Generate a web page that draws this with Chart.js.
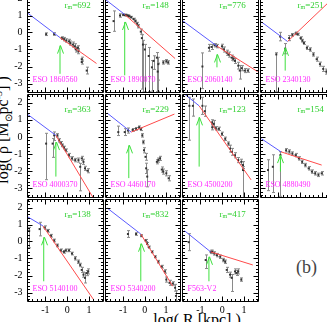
<!DOCTYPE html>
<html>
<head>
<meta charset="utf-8">
<script src="https://cdn.jsdelivr.net/npm/chart.js@4.4.1/dist/chart.umd.min.js"></script>
<style>
html, body { margin: 0; padding: 0; background: #fff; }
#fig { position: relative; width: 327px; height: 322px; overflow: hidden; background: #fff; }
#fig canvas { position: absolute; }
.t { position: absolute; font-family: "Liberation Serif", serif; color: #000; white-space: nowrap; }
</style>
</head>
<body>
<div id="fig">
  <div class="t" id="ytitle" style="left:4px;top:130px;font-size:16px;line-height:16px;transform:translate(-50%,-50%) rotate(-90deg);">log( &rho; [M<sub style="font-size:10px">&#8857;</sub>pc<sup style="font-size:10px">-3</sup>] )</div>
  <div class="t" id="xtitle" style="left:197px;top:312px;font-size:16px;line-height:16px;transform:translateX(-50%);">log( R [kpc] )</div>
  <div class="t" style="left:296px;top:258px;font-size:18px;line-height:18px;color:#444;">(b)</div>
</div>
<script>
// panel names and break radius labels
const galaxy = ['ESO 1860560', 'ESO 1890070', 'ESO 2060140', 'ESO 2340130',
                'ESO 4000370', 'ESO 4460170', 'ESO 4500200', 'ESO 4880490',
                'ESO 5140100', 'ESO 5340200', 'F563-V2']
const rm = [692, 148, 776, 251, 363, 229, 123, 154, 138, 832, 417]

const xTicks = [-1, 0, 1]
const yTicks = [2, 1, 0, -1, -2, -3]
const xRange = [-1.85, 1.65]
const yRange = [-3.5, 2.5]

// inner fit (blue) and outer fit (red): x0, y0, x1, y1
const blueFit = [
  [-1.87, 1.19, -0.33, -0.30], [-1.85, 1.96, -0.93, 1.06], [-1.85, 0.72, -0.24, -0.80], [-1.78, 0.62, -0.58, -0.53],
  [-1.87, 1.36, -0.52, 0.09], [-1.75, 1.39, -0.63, 0.28], [-1.85, 2.62, -1.06, 1.81], [-1.78, -0.11, -0.88, -0.87],
  [-1.87, 1.49, -1.12, 0.92], [-1.75, 1.97, -0.18, 0.44], [-1.73, 0.63, -0.53, -0.61]
]
const redFit = [
  [-0.33, -0.30, 1.35, -1.82], [-0.93, 1.06, 1.42, -1.53], [-0.24, -0.80, 1.63, -2.30], [-0.58, -0.53, 1.70, 2.25],
  [-0.52, 0.09, 1.20, -3.55], [-0.63, 0.28, 1.39, 1.33], [-1.06, 1.81, 1.33, -2.50], [-0.88, -0.87, 0.99, -1.64],
  [-1.12, 0.92, 1.20, -3.39], [-0.18, 0.44, 1.31, -2.63], [-0.53, -0.61, 1.41, -1.38]
]
// green arrows: x, base, tip
const arrows = [
  [-0.33, -2.43, -0.77], [-0.93, -2.52, 0.62], [-0.24, -2.05, -1.29], [-0.69, -2.24, -0.90],
  [-0.52, -2.31, -0.30], [-0.74, -2.40, -0.49], [-1.06, -1.73, 1.14], [-0.91, -2.02, -1.06],
  [-1.08, -2.34, 0.25], [-0.18, -2.34, -0.13], [-0.61, -2.34, -0.90]
]
// profiles: x, y, error up, error down
const points = [
  [[-0.97,-0.10,0.08,0.08],[-0.60,-0.09,0.08,0.08],[-0.25,-0.33,0.08,0.08],[-0.15,-0.39,0.1,0.1],[-0.04,-0.47,0.1,0.1],
   [0.08,-0.52,0.12,0.12],[0.15,-0.62,0.12,0.12],[0.26,-0.71,0.15,0.15],[0.35,-0.81,0.15,0.15],[0.40,-1.0,0.15,0.15],
   [0.49,-0.9,0.12,0.12],[0.52,-1.1,0.15,0.15],[0.67,-1.57,0.12,0.12],[0.67,-1.74,0.12,0.12],[0.90,-2.24,0.2,0.2]],
  [[-1.45,0.67,0.6,0.6],[-1.15,1.0,0.1,0.1],[-1.0,1.04,0.05,0.05],[-0.92,1.03,0.05,0.05],[-0.85,1.02,0.05,0.05],
   [-0.78,0.99,0.05,0.05],[-0.73,0.96,0.05,0.05],[-0.63,0.90,0.05,0.05],[-0.52,0.79,0.05,0.05],[-0.43,0.67,0.06,0.06],
   [-0.35,0.52,0.08,0.08],[-0.29,0.37,0.1,0.1],[-0.18,0.05,0.15,0.15],[-0.13,-0.33,0.2,3.0],[-0.08,-0.71,0.25,2.8],
   [0.01,-1.0,0.3,2.5],[0.19,-1.38,0.5,2.1],[0.34,-2.05,0.4,1.4],[0.42,-1.67,0.3,0.5],[0.57,-1.48,0.3,2.0],
   [0.61,-2.3,0.5,0.5],[0.64,-1.86,0.4,1.6],[0.87,-1.76,0.1,0.1],[1.01,-1.69,0.1,0.1],[1.10,-1.76,0.1,0.1]],
  [[-0.91,-2.0,0.8,1.3],[-0.61,-0.90,0.2,0.2],[-0.49,-0.85,0.15,0.15],[-0.35,-0.75,0.1,0.1],[-0.24,-0.80,0.1,0.1],
   [-0.01,-0.81,0.12,0.12],[0.08,-1.0,0.15,0.15],[0.21,-1.19,0.15,0.15],[0.30,-1.3,0.15,0.15],[0.44,-1.48,0.15,0.15],
   [0.52,-1.55,0.12,0.12],[0.59,-1.67,0.15,0.15],[0.74,-1.95,0.2,0.2],[0.81,-2.24,0.3,0.5],[0.90,-2.1,0.15,0.15],
   [1.04,-2.24,0.12,0.12],[1.18,-2.24,0.1,0.1]],
  [[-1.10,-1.29,0.1,2.2],[-0.92,-0.24,0.25,0.25],[-0.69,-0.95,0.3,0.3],[-0.51,-0.33,0.15,0.15],[-0.36,-0.14,0.08,0.08],
   [-0.21,-0.05,0.08,0.08],[-0.12,-0.10,0.06,0.06],[0.02,-0.33,0.08,0.08],[0.10,-0.48,0.08,0.08],[0.17,-0.62,0.08,0.08],
   [0.31,-0.90,0.1,0.1],[0.46,-1.0,0.1,0.1],[0.61,-1.29,0.1,0.1],[0.76,-1.57,0.12,0.12],[0.91,-1.86,0.12,0.12],
   [1.06,-2.14,0.15,0.15],[1.20,-2.30,0.15,0.15]],
  [[-0.97,-0.39,0.6,2.1],[-0.67,-0.39,0.3,0.8],[-0.60,0.09,0.2,0.3],[-0.45,0.09,0.1,0.1],[-0.37,-0.2,0.1,0.1],
   [-0.30,-0.35,0.08,0.08],[-0.22,-0.49,0.08,0.08],[-0.15,-0.62,0.08,0.08],[-0.07,-0.78,0.08,0.08],[0.08,-1.06,0.1,0.1],
   [0.22,-1.25,0.1,0.1],[0.37,-1.35,0.1,0.1],[0.52,-1.35,0.12,0.12],[0.60,-1.74,0.2,1.4],[0.67,-1.25,0.12,0.12],
   [0.75,-1.45,0.15,0.15],[0.82,-1.83,0.12,0.12],[0.94,-1.97,0.12,0.12]],
  [[-1.23,0.28,0.35,0.2],[-0.93,0.28,0.2,0.2],[-0.78,0.37,0.15,0.15],[-0.56,0.41,0.08,0.08],[-0.40,0.47,0.08,0.08],
   [-0.26,0.56,0.08,0.08],[-0.18,0.45,0.08,0.08],[-0.11,0.09,0.1,0.1],[-0.06,-0.30,0.1,0.1],[-0.03,-0.78,0.15,0.15],
   [0.04,-1.16,0.2,0.2],[0.07,-1.83,0.3,0.3],[0.12,-2.31,0.4,0.6],[0.57,-1.45,0.12,0.12],[0.64,-1.35,0.12,0.12],
   [0.72,-1.25,0.12,0.12],[0.80,-1.9,0.15,0.15],[0.87,-2.02,0.15,0.15],[1.01,-2.12,0.15,0.15],[1.12,-2.41,0.15,0.15]],
  [[-1.51,1.81,0.5,2.0],[-1.35,1.81,0.4,0.6],[-0.91,1.81,0.5,0.5],[-0.80,1.5,0.3,0.3],[-0.46,0.85,0.15,0.15],
   [-0.46,0.56,0.15,0.15],[-0.39,0.76,0.2,0.2],[-0.30,0.5,0.1,0.1],[-0.16,0.47,0.1,0.1],[-0.01,0.18,0.1,0.1],
   [0.14,-0.11,0.1,0.1],[0.29,-0.39,0.1,0.1],[0.36,-0.68,0.2,0.2],[0.44,-0.87,0.2,0.2],[0.59,-1.07,0.15,0.15],
   [0.74,-1.35,0.15,0.15],[0.88,-1.45,0.15,0.15],[0.96,-1.64,0.2,0.2],[0.96,-1.93,0.2,1.6]],
  [[-1.48,-1.93,0.6,1.2],[-1.26,-1.74,0.7,1.5],[-0.91,-1.06,0.2,2.4],[-0.65,-0.78,0.1,0.1],[-0.50,-0.85,0.1,0.1],
   [-0.36,-0.97,0.1,0.1],[-0.21,-1.06,0.1,0.1],[-0.06,-1.25,0.1,0.1],[0.09,-1.45,0.1,0.1],[0.24,-1.64,0.1,0.1],
   [0.39,-1.83,0.1,0.1],[0.54,-2.02,0.1,0.1],[0.69,-2.12,0.1,0.1],[0.84,-2.21,0.1,0.1],[0.99,-2.12,0.1,0.1]],
  [[-1.75,0.63,0.2,1.0],[-1.27,0.73,0.4,0.4],[-1.04,0.82,0.1,0.1],[-0.89,0.63,0.08,0.08],[-0.74,0.34,0.08,0.08],
   [-0.60,0.06,0.08,0.08],[-0.45,-0.23,0.08,0.08],[-0.30,-0.52,0.08,0.08],[-0.15,-0.61,0.08,0.08],[-0.07,-0.52,0.08,0.08],
   [0.08,-0.52,0.08,0.08],[0.22,-0.71,0.08,0.08],[0.37,-0.99,0.1,0.1],[0.52,-1.19,0.1,0.1],[0.60,-1.38,0.1,0.1],
   [0.67,-1.67,0.15,0.15],[0.75,-1.95,0.15,0.15],[0.82,-2.14,0.3,0.3],[0.90,-1.86,0.15,0.15],[0.97,-1.76,0.15,0.15]],
  [[-0.78,0.44,0.2,0.2],[-0.40,0.44,0.08,0.08],[-0.15,0.34,0.06,0.06],[0.04,0.06,0.06,0.06],[0.11,-0.12,0.06,0.06],
   [0.19,-0.33,0.06,0.06],[0.34,-0.61,0.06,0.06],[0.49,-0.90,0.06,0.06],[0.64,-1.19,0.08,0.08],[0.79,-1.48,0.08,0.08],
   [0.94,-1.76,0.1,0.1],[1.01,-2.24,0.15,0.15],[1.16,-2.43,0.15,0.15],[1.31,-2.47,0.1,0.1],[1.42,-2.72,0.2,0.2],
   [1.46,-3.2,0.3,0.3]],
  [[-1.54,-0.04,0.5,0.5],[-0.76,-1.09,0.3,0.5],[-0.53,-0.61,0.1,0.1],[-0.46,-0.61,0.1,0.1],[-0.36,-0.70,0.1,0.1],
   [-0.24,-0.80,0.1,0.1],[-0.09,-0.90,0.1,0.1],[0.06,-1.09,0.1,0.1],[0.14,-1.19,0.1,0.1],[0.21,-1.67,0.15,0.15],
   [0.36,-1.95,0.15,0.15],[0.44,-2.14,0.2,0.8],[0.59,-1.76,0.15,0.15],[0.66,-1.85,0.15,0.15],[0.74,-1.76,0.15,0.15],
   [0.88,-2.24,0.1,0.1]]
]

// panel grid (pixels of the page)
const colEdges = [27, 105, 182, 260, 338]
const rowEdges = [-12, 92, 197, 301]
const PAD = {left: 30, top: 2, right: 2, bottom: 16}
const SERIF = '"Liberation Serif", "DejaVu Serif", serif'

const errorBars = {
  id: 'errorBars',
  beforeDatasetsDraw(chart, args, opts){
    const {ctx, chartArea: a, scales: {x, y}} = chart
    ctx.save()
    ctx.beginPath()
    ctx.rect(a.left, a.top, a.right - a.left, a.bottom - a.top)
    ctx.clip()
    ctx.strokeStyle = '#8a8a8a'
    ctx.lineWidth = 1
    opts.errors.forEach(p => {
      const px = Math.round(x.getPixelForValue(p[0])) + 0.5
      const top = y.getPixelForValue(p[1] + p[2])
      const bot = y.getPixelForValue(p[1] - p[3])
      ctx.beginPath()
      ctx.moveTo(px, top); ctx.lineTo(px, bot)
      ctx.moveTo(px - 1.5, top); ctx.lineTo(px + 1.5, top)
      ctx.moveTo(px - 1.5, bot); ctx.lineTo(px + 1.5, bot)
      ctx.stroke()
    })
    ctx.restore()
  }
}

const panelFrame = {
  id: 'panelFrame',
  afterDraw(chart, args, opts){
    const {ctx, chartArea: a, scales: {x, y}} = chart
    const L = Math.round(a.left) + 0.5, R = Math.round(a.right) + 0.5
    const T = Math.round(a.top) + 0.5, B = Math.round(a.bottom) + 0.5
    ctx.save()
    // arrow head
    const [ax, , atip] = opts.arrow
    const hx = Math.round(x.getPixelForValue(ax)) + 0.5
    const hy = y.getPixelForValue(atip)
    ctx.strokeStyle = '#3ee03e'
    ctx.lineWidth = 1
    ctx.beginPath()
    ctx.moveTo(hx - 3, hy + 8); ctx.lineTo(hx, hy); ctx.lineTo(hx + 3, hy + 8)
    ctx.stroke()
    // frame and ticks
    ctx.strokeStyle = '#000'
    ctx.beginPath()
    ctx.rect(L, T, R - L, B - T)
    for(let k = -17; k <= 12; k++){
      const py = Math.round(y.getPixelForValue(k / 5)) + 0.5
      const len = k % 5 === 0 ? 5 : 2.5
      ctx.moveTo(L, py); ctx.lineTo(L + len, py)
      ctx.moveTo(R, py); ctx.lineTo(R - len, py)
    }
    for(let k = -9; k <= 8; k++){
      const px = Math.round(x.getPixelForValue(k / 5)) + 0.5
      const len = k % 5 === 0 ? 5 : 2.5
      ctx.moveTo(px, B); ctx.lineTo(px, B - len)
      ctx.moveTo(px, T); ctx.lineTo(px, T + len)
    }
    ctx.stroke()
    ctx.fillStyle = '#000'
    ctx.font = '10px ' + SERIF
    if(opts.yLabels){
      ctx.textAlign = 'right'
      ctx.textBaseline = 'middle'
      yTicks.forEach(v => ctx.fillText(String(v), L - 5, y.getPixelForValue(v)))
    }
    if(opts.xLabels){
      ctx.textAlign = 'center'
      ctx.textBaseline = 'top'
      xTicks.forEach(v => ctx.fillText(String(v), x.getPixelForValue(v), B + 4))
    }
    // galaxy name
    ctx.fillStyle = '#ff2cff'
    ctx.font = '8px ' + SERIF
    ctx.textAlign = 'left'
    ctx.textBaseline = 'middle'
    ctx.fillText(opts.name, L + 5, B - 13)
    // r_m label
    ctx.fillStyle = '#30d030'
    let tx = L + 37
    const ty = T + 15
    ctx.font = '9px ' + SERIF
    ctx.fillText('r', tx, ty)
    tx += ctx.measureText('r').width
    ctx.font = '6px ' + SERIF
    ctx.fillText('m', tx, ty + 2)
    tx += ctx.measureText('m').width
    ctx.font = '9px ' + SERIF
    ctx.fillText('=' + opts.rm, tx, ty)
    ctx.restore()
  }
}

const fig = document.getElementById('fig')

galaxy.forEach((name, i) => {
  const row = Math.floor(i / 4), col = i % 4
  const w = colEdges[col + 1] - colEdges[col]
  const h = rowEdges[row + 1] - rowEdges[row]
  const canvas = document.createElement('canvas')
  canvas.width = w + PAD.left + PAD.right
  canvas.height = h + PAD.top + PAD.bottom
  canvas.style.width = canvas.width + 'px'
  canvas.style.height = canvas.height + 'px'
  canvas.style.left = (colEdges[col] - PAD.left) + 'px'
  canvas.style.top = (rowEdges[row] - PAD.top) + 'px'
  fig.appendChild(canvas)

  const b = blueFit[i], r = redFit[i], ar = arrows[i]
  const config = {
    type: 'scatter',
    data: {
      datasets: [
        {data: [{x: b[0], y: b[1]}, {x: b[2], y: b[3]}], showLine: true, borderColor: '#5a5aff', borderWidth: 1, pointRadius: 0},
        {data: [{x: r[0], y: r[1]}, {x: r[2], y: r[3]}], showLine: true, borderColor: '#ff4a4a', borderWidth: 1, pointRadius: 0},
        {data: [{x: ar[0], y: ar[1]}, {x: ar[0], y: ar[2]}], showLine: true, borderColor: '#3ee03e', borderWidth: 1, pointRadius: 0},
        {data: points[i].map(p => ({x: p[0], y: p[1]})), pointStyle: 'rect', pointRadius: 1.4,
         backgroundColor: '#333', borderWidth: 0}
      ]
    },
    options: {
      responsive: false,
      animation: false,
      devicePixelRatio: 1,
      layout: {padding: PAD},
      events: [],
      scales: {
        x: {type: 'linear', min: xRange[0], max: xRange[1], display: false},
        y: {type: 'linear', min: yRange[0], max: yRange[1], display: false}
      },
      plugins: {
        legend: {display: false},
        tooltip: {enabled: false},
        errorBars: {errors: points[i]},
        panelFrame: {name, rm: rm[i], arrow: ar, yLabels: col === 0, xLabels: row === 2}
      }
    },
    plugins: [errorBars, panelFrame]
  }
  new Chart(canvas.getContext('2d'), config)
})
</script>
</body>
</html>
